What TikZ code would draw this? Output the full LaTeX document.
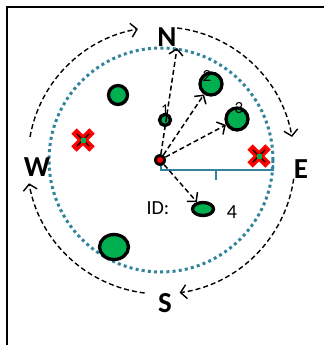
\documentclass[tikz,border=0pt]{standalone}
\usepackage{fontspec}
\setmainfont{Carlito}
\usetikzlibrary{arrows.meta,shapes.geometric,calc}
\definecolor{ringteal}{RGB}{49,132,155}
\definecolor{blobgreen}{RGB}{0,176,80}
\begin{document}
\begin{tikzpicture}[x=1pt,y=1pt,
    compass/.style={font=\fontsize{29}{30}\selectfont\bfseries, inner sep=0pt},
    orbit/.style={dash pattern=on 5pt off 3pt, line width=1.4pt, -{Straight Barb[length=6pt,width=14pt]}},
    ray/.style={dash pattern=on 5pt off 3pt, line width=1.5pt, -{Straight Barb[length=6pt,width=14pt]}},
    ring/.style={ringteal, line width=3pt, dash pattern=on 3pt off 3.2pt},
    blob/.style={circle, draw, line width=3.3pt, fill=blobgreen, inner sep=0pt},
    eblob/.style={ellipse, draw, line width=3.3pt, fill=blobgreen, inner sep=0pt},
    tag/.style={font=\fontsize{20}{22}\selectfont, inner sep=0pt}]
  \useasboundingbox (0,0) rectangle (324,-345);
  % frame, open at right and bottom
  \draw[line width=2pt] (7,-345) -- (7,-7) -- (324,-7);
  % dotted range circle
  \coordinate (ctr) at (161,-160);
  \draw[ring] (ctr) circle[radius=112];
  % compass letters
  \node[compass] (N) at (167,-37) {N};
  \node[compass] (E) at (301,-169) {E};
  \node[compass] (S) at (165,-303) {S};
  \node[compass] (W) at (37,-167) {W};
  % turning arcs round the compass
  \draw[orbit] ($(ctr)+(170:133)$) arc[start angle=170, end angle=100, radius=133];
  \draw[orbit] ($(ctr)+(83:133)$) arc[start angle=83, end angle=10, radius=133];
  \draw[orbit] ($(ctr)+(-8:134)$) arc[start angle=-8, end angle=-82, radius=134];
  \draw[orbit] ($(ctr)+(-97:134)$) arc[start angle=-97, end angle=-170, radius=134];
  % range brace
  \draw[ringteal, line width=1.3pt] (161,-165) -- (161,-170) -- (273,-170) -- (273,-165);
  \draw[ringteal, line width=1.3pt] (216,-170) -- (216,-180);
  % red crosses
  \foreach \px/\py in {83/-140, 259/-156} {
    \draw[red, line width=7.5pt] (\px-9,\py+9) -- (\px+9,\py-9)
                                 (\px-9,\py-9) -- (\px+9,\py+9);
    \draw[line width=1.4pt] (\px-6,\py+6) -- (\px+6,\py-6)
                            (\px-6,\py-6) -- (\px+6,\py+6);
    \fill[blobgreen] (\px-2.5,\py-2.5) rectangle (\px+2.5,\py+2.5);
  }
  % green targets
  \node[blob, minimum size=19pt] (c0) at (118,-95) {};
  \node[blob, minimum size=11pt] (c1) at (165,-120) {};
  \node[blob, minimum size=22pt] (c2) at (211,-84) {};
  \node[blob, minimum size=22pt] (c3) at (237,-119) {};
  \node[eblob, minimum width=21pt, minimum height=13pt] (c4) at (203,-209) {};
  \node[eblob, minimum width=29pt, minimum height=25pt] (c5) at (114,-247) {};
  % hub
  \node[circle, fill=black, minimum size=12pt, inner sep=0pt] (hub) at (160,-160) {};
  \fill[red] (hub) circle[radius=3];
  % rays from the hub
  \coordinate (tipN) at (177,-48);
  \draw[ray] (hub) -- (tipN);
  \draw[ray] (hub) -- (c2);
  \draw[ray] (hub) -- (c3);
  \draw[ray] (hub) -- (c4);
  % ID labels
  \node[tag] (n1) at (165,-110) {\fontsize{15}{16}\selectfont 1};
  \node[tag] (n2) at (207,-76) {\fontsize{17}{18}\selectfont 2};
  \node[tag] (n3) at (239,-108) {\fontsize{17}{18}\selectfont 3};
  \node[tag] (id) at (158,-208) {ID:};
  \node[tag] (n4) at (232,-212) {4};
\end{tikzpicture}
\end{document}
